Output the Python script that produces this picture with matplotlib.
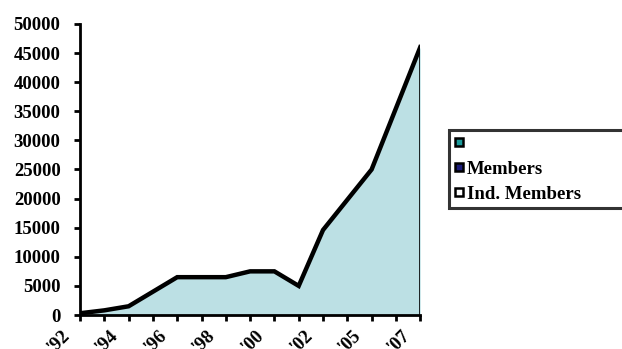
import matplotlib
matplotlib.use("Agg")
import matplotlib.pyplot as plt
import matplotlib.transforms as mtransforms
from matplotlib.lines import Line2D

years = ["'92", "'93", "'94", "'95", "'96", "'97", "'98", "'99",
         "'00", "'01", "'02", "'03", "'05", "'06", "'07"]
members = [300, 800, 1500, 4000, 6500, 6500, 6500, 7500,
           7500, 5000, 14600, 19800, 25000, 35500, 46000]
shown_labels = ["'92", "'94", "'96", "'98", "'00", "'02", "'05", "'07"]
legend_labels = ["", "Members", "Ind. Members"]
legend_colors = ["#1a9a9a", "#1c1c7a", "#ffffff"]

plt.rcParams['font.family'] = ['Liberation Serif', 'DejaVu Serif']
plt.rcParams['font.weight'] = 'bold'
plt.rcParams['font.size'] = 13.5

fig = plt.figure(figsize=(6.22, 3.49), dpi=100)
ax = fig.add_axes([0.1286, 0.0974, 0.547, 0.834])

x = list(range(len(members)))
ax.fill_between(x, members, 0, color='#bce0e4', linewidth=0)
ax.plot(x, members, color='black', lw=3.2, solid_joinstyle='miter')
ax.plot([x[-1], x[-1]], [0, members[-1]], color='black', lw=1.2)

ax.set_xlim(0, len(members) - 1)
ax.set_ylim(0, 50000)
ax.set_yticks(range(0, 50001, 5000))
ax.set_xticks(x)
ax.set_xticklabels([])

# rotated year labels, slightly left of their ticks like the original
shift = mtransforms.ScaledTranslation(-7 / 100, -12 / 100, fig.dpi_scale_trans)
for i, y in enumerate(years):
    if y in shown_labels:
        ax.text(i, 0, y, transform=ax.get_xaxis_transform() + shift,
                rotation=45, ha='right', va='top')

for s in ['top', 'right']:
    ax.spines[s].set_visible(False)
for s in ['left', 'bottom']:
    ax.spines[s].set_linewidth(2)
ax.tick_params(axis='both', direction='out', length=4, width=2)
ax.tick_params(axis='y', pad=10)

handles = [Line2D([], [], marker='s', linestyle='none', markersize=5.5,
                  markerfacecolor=c, markeredgecolor='black', markeredgewidth=1.8)
           for c in legend_colors]
leg = fig.legend(handles, legend_labels, loc='upper left',
                 bbox_to_anchor=(0.722, 0.6275, 0.32, 0.0), mode='expand',
                 borderaxespad=0, fancybox=False, handlelength=0.5,
                 handletextpad=0.15, labelspacing=0.42, borderpad=0.3,
                 frameon=True)
leg.get_frame().set_edgecolor('black')
leg.get_frame().set_linewidth(2.2)

fig.savefig('out.png', dpi=100)
